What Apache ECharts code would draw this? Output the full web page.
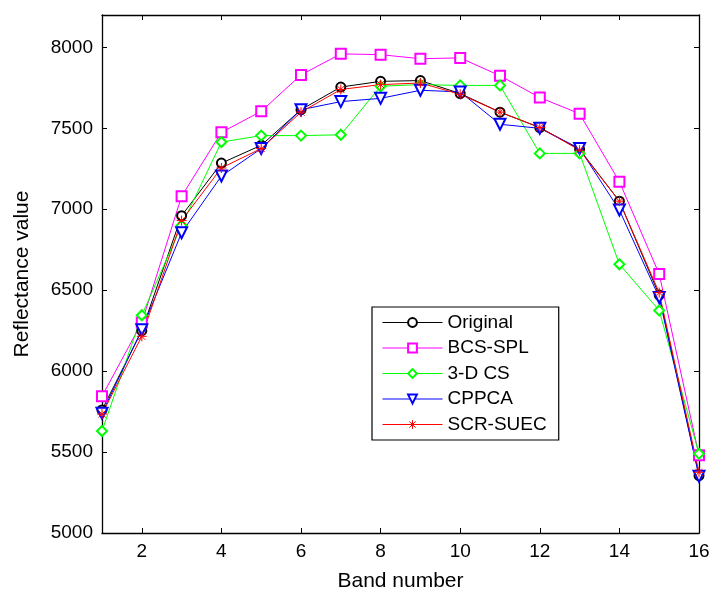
<!DOCTYPE html>
<html>
<head>
<meta charset="utf-8">
<script src="https://cdn.jsdelivr.net/npm/echarts@6/dist/echarts.min.js"></script>
<style>
  html, body { margin: 0; padding: 0; background: #fff; }
  #chart { width: 709px; height: 589px; }
</style>
</head>
<body>
<div id="chart"></div>
<script>
const bands = [1, 2, 3, 4, 5, 6, 7, 8, 9, 10, 11, 12, 13, 14, 15, 16];
const original = [5760, 6250, 6960, 7285, 7395, 7615, 7755, 7790, 7795, 7715, 7600, 7505, 7370, 7050, 6470, 5355];
const bcsSpl = [5845, 6300, 7080, 7475, 7605, 7830, 7960, 7955, 7930, 7935, 7825, 7690, 7590, 7170, 6600, 5480];
const cs3d = [5630, 6345, 6900, 7415, 7455, 7455, 7460, 7760, 7770, 7765, 7765, 7345, 7345, 6660, 6375, 5490];
const cppca = [5740, 6255, 6855, 7205, 7375, 7615, 7665, 7685, 7735, 7725, 7525, 7500, 7375, 6995, 6455, 5350];
const scrSuec = [5735, 6215, 6930, 7255, 7375, 7600, 7740, 7770, 7780, 7710, 7600, 7505, 7365, 7050, 6485, 5375];
const xTicks = [2, 4, 6, 8, 10, 12, 14, 16];
const yTicks = [5000, 5500, 6000, 6500, 7000, 7500, 8000];

const pts = arr => bands.map((b, i) => [b, arr[i]]);
const asterisk = 'path://M5,0L5,10M0,5L10,5M1.5,1.5L8.5,8.5M1.5,8.5L8.5,1.5';
const font = 'Liberation Sans, Arial, Helvetica, sans-serif';

const myChart = echarts.init(document.getElementById('chart'));

function line(name, data, color, symbol, size, extra) {
    return Object.assign({
        name: name,
        type: 'line',
        data: pts(data),
        symbol: symbol,
        symbolSize: size,
        showAllSymbol: true,
        lineStyle: { color: color, width: 1 },
        itemStyle: { color: color, borderColor: color, borderWidth: 1 },
        emphasis: { disabled: true },
        animation: false
    }, extra || {});
}

const option = {
    backgroundColor: '#fff',
    grid: { left: 102, right: 10, top: 15, bottom: 56, outerBoundsMode: 'none', containLabel: false },
    legend: {
        orient: 'vertical',
        left: 372,
        top: 307,
        padding: [6, 12, 6, 10],
        itemWidth: 60,
        itemHeight: 11,
        itemGap: 6.5,
        backgroundColor: '#fff',
        borderColor: '#000',
        borderWidth: 1.2,
        lineStyle: { width: 1 },
        itemStyle: { borderWidth: 1 },
        textStyle: { fontFamily: font, fontSize: 19, color: '#000', padding: [0, 0, 0, 0] },
        data: ['Original', 'BCS-SPL', '3-D CS', 'CPPCA', 'SCR-SUEC']
    },
    xAxis: [{
        type: 'value',
        min: 1,
        max: 16,
        name: 'Band number',
        nameLocation: 'middle',
        nameGap: 38,
        nameTextStyle: { fontFamily: font, fontSize: 21, color: '#000' },
        axisLine: { lineStyle: { color: '#000', width: 1.3 } },
        axisTick: { inside: true, length: 5, customValues: xTicks, lineStyle: { color: '#000' } },
        axisLabel: { customValues: xTicks, margin: 9, fontFamily: font, fontSize: 19, color: '#000' },
        splitLine: { show: false }
    }, {
        type: 'value',
        position: 'top',
        min: 1,
        max: 16,
        axisLine: { onZero: false, lineStyle: { color: '#000', width: 1.3 } },
        axisTick: { inside: true, length: 5, customValues: xTicks, lineStyle: { color: '#000' } },
        axisLabel: { show: false },
        splitLine: { show: false }
    }],
    yAxis: [{
        type: 'value',
        min: 5000,
        max: 8200,
        name: 'Reflectance value',
        nameLocation: 'middle',
        nameGap: 69,
        nameRotate: 90,
        nameTextStyle: { fontFamily: font, fontSize: 21, color: '#000' },
        axisLine: { show: true, lineStyle: { color: '#000', width: 1.3 } },
        axisTick: { show: true, inside: true, length: 5, customValues: yTicks, lineStyle: { color: '#000' } },
        axisLabel: {
            customValues: yTicks, margin: 9, fontFamily: font, fontSize: 19, color: '#000',
            formatter: v => String(v)
        },
        splitLine: { show: false }
    }, {
        type: 'value',
        position: 'right',
        min: 5000,
        max: 8200,
        axisLine: { show: true, onZero: false, lineStyle: { color: '#000', width: 1.3 } },
        axisTick: { show: true, inside: true, length: 5, customValues: yTicks, lineStyle: { color: '#000' } },
        axisLabel: { show: false },
        splitLine: { show: false }
    }],
    series: [
        line('Original', original, '#000000', 'emptyCircle', 9),
        line('BCS-SPL', bcsSpl, '#ff00ff', 'emptyRect', 10),
        line('3-D CS', cs3d, '#00ff00', 'emptyDiamond', 10),
        line('CPPCA', cppca, '#0000ff', 'emptyTriangle', 11, { symbolRotate: 180 }),
        line('SCR-SUEC', scrSuec, '#ff0000', asterisk, 10)
    ]
};

myChart.setOption(option);
</script>
</body>
</html>
